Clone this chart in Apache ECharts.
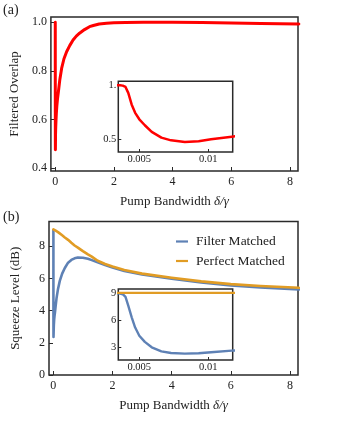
<!DOCTYPE html>
<html>
<head>
<meta charset="utf-8">
<script src="https://cdn.jsdelivr.net/npm/echarts@6/dist/echarts.min.js"></script>
<style>html,body{margin:0;padding:0;background:#fff;}#c{width:346px;height:423px;}</style>
</head>
<body>
<div id="c"></div>
<script>
// Pump bandwidth delta/gamma
var delta = [0.0034,0.0036,0.0038,0.004,0.0042,0.00445,0.0047,0.005,0.0054,0.0059,0.0066,0.0073,0.0083,0.0093,0.0102,0.0117,0.013,0.016,0.02,0.03,0.04,0.057,0.08,0.11,0.16,0.22,0.3,0.39,0.5,0.61,0.72,0.83,1.0,1.17,1.3,1.5,1.75,2.0,2.4,3,4,5,6,7,8.3];
// Filtered overlap (panel a)
var overlap = [1.0,1.0,0.997,0.985,0.93,0.82,0.745,0.685,0.63,0.568,0.515,0.49,0.475,0.481,0.5,0.524,0.54,0.555,0.57,0.6,0.625,0.655,0.685,0.714,0.765,0.81,0.85,0.879,0.905,0.927,0.943,0.955,0.97,0.982,0.987,0.993,0.996,0.998,0.999,1.0,1.0,0.999,0.997,0.995,0.993];
// Squeeze level (dB) panel b
var filterMatched = [9.0,8.97,8.9,8.6,7.63,6.33,5.2,4.29,3.6,3.0,2.55,2.37,2.3,2.34,2.45,2.63,2.75,2.95,3.15,3.45,3.65,3.9,4.3,4.78,5.35,5.85,6.3,6.65,6.98,7.15,7.25,7.3,7.29,7.22,7.14,7.0,6.83,6.68,6.47,6.25,5.98,5.75,5.57,5.44,5.32];
var perfectMatched = [9.05,9.05,9.05,9.05,9.05,9.05,9.05,9.05,9.05,9.05,9.05,9.05,9.05,9.05,9.05,9.05,9.05,9.05,9.04,9.03,9.02,9.0,8.97,8.94,8.88,8.8,8.68,8.55,8.4,8.22,8.05,7.92,7.7,7.5,7.36,7.1,6.9,6.74,6.52,6.3,6.04,5.82,5.65,5.53,5.42];
// Tick values
var xTicksMain = [0,2,4,6,8];
var yTicksA = [0.4,0.6,0.8,1.0];
var yTicksB = [0,2,4,6,8];
var xTicksInset = [0.005,0.01];
var yTicksInsetA = [0.5,1];
var yTicksInsetB = [3,6,9];

function pairs(xs, ys){ return xs.map(function(x,i){ return [x, ys[i]]; }); }

var FONT = 'Liberation Serif';
var frame = '#2a2a2a';
function gridBox(l,t,w,h,bg){
  return {left:l, top:t, width:w, height:h, show:true, borderColor:frame, borderWidth:1.5, backgroundColor:bg||'transparent', containLabel:false};
}
function xAx(gi, min, max, ticks, fmt, fs, name, margin){
  return {type:'value', gridIndex:gi, min:min, max:max,
    axisLine:{show:false, onZero:false},
    splitLine:{show:false},
    axisTick:{show:true, inside:true, length:fs>11?4:3, lineStyle:{color:frame}, customValues:ticks},
    axisLabel:{show:true, customValues:ticks, formatter:fmt, fontFamily:FONT, fontSize:fs, color:'#222', margin:margin},
    name:name||'', nameLocation:'middle', nameGap:24,
    nameTextStyle:{fontFamily:FONT, fontSize:13, color:'#222', rich:{i:{fontFamily:FONT, fontStyle:'italic', fontSize:13, color:'#222'}}}
  };
}
function yAx(gi, min, max, ticks, fmt, fs, name, margin){
  return {type:'value', gridIndex:gi, min:min, max:max,
    axisLine:{show:false, onZero:false},
    splitLine:{show:false},
    axisTick:{show:true, inside:true, length:fs>11?4:3, lineStyle:{color:frame}, customValues:ticks},
    axisLabel:{show:true, customValues:ticks, formatter:fmt, fontFamily:FONT, fontSize:fs, color:'#222', margin:margin},
    name:name||'', nameLocation:'middle', nameGap:27,
    nameTextStyle:{fontFamily:FONT, fontSize:13, color:'#222'}
  };
}
var RED = '#FF0000', BLUE = '#5E81B5', ORANGE = '#E19C24';
function line(name, gi, data, color, w){
  return {type:'line', name:name, xAxisIndex:gi, yAxisIndex:gi, data:data, symbol:'none',
    smooth:false, clip:true, animation:false,
    lineStyle:{color:color, width:w, join:'round', cap:'round'}, itemStyle:{color:color}};
}

var chart = echarts.init(document.getElementById('c'), null, {renderer:'canvas'});
chart.setOption({
  animation:false,
  backgroundColor:'#fff',
  grid:[
    gridBox(49,17,249,154),
    gridBox(118.3,81.3,114.4,70.7,'#fff'),
    gridBox(49,221.5,249,153.5),
    gridBox(118.3,289,114.4,71,'#fff')
  ],
  xAxis:[
    xAx(0,-0.145,8.27,xTicksMain,function(v){return String(v);},12,'Pump Bandwidth {i|δ/γ}',5),
    xAx(1,0.003478,0.011768,xTicksInset,function(v){return String(v);},10.5,'',2),
    xAx(2,-0.145,8.27,xTicksMain,function(v){return String(v);},12,'Pump Bandwidth {i|δ/γ}',5),
    xAx(3,0.003478,0.011768,xTicksInset,function(v){return String(v);},10.5,'',2)
  ],
  yAxis:[
    yAx(0,0.388,1.0218,yTicksA,function(v){return v.toFixed(1);},12,'Filtered Overlap',4),
    yAx(1,0.382,1.037,yTicksInsetA,function(v){return v===1?'1.':String(v);},10.5,'',2),
    yAx(2,0,9.54,yTicksB,function(v){return String(v);},12,'Squeeze Level (dB)',4),
    yAx(3,1.59,9.48,yTicksInsetB,function(v){return String(v);},10.5,'',2)
  ],
  legend:{
    show:true, orient:'vertical', left:171, top:229, icon:'rect', itemWidth:12, itemHeight:2.2, itemGap:4.5,
    data:['Filter Matched','Perfect Matched'],
    textStyle:{fontFamily:FONT, fontSize:13.5, color:'#222', padding:[0,0,0,3], lineHeight:15}
  },
  series:[
    line('Filtered Overlap',0,pairs(delta,overlap),RED,3),
    line('Filtered Overlap inset',1,pairs(delta,overlap),RED,2.5),
    line('Filter Matched',2,pairs(delta,filterMatched),BLUE,2.6),
    line('Perfect Matched',2,pairs(delta,perfectMatched),ORANGE,2.6),
    line('Filter Matched',3,pairs(delta,filterMatched),BLUE,2.4),
    line('Perfect Matched',3,pairs(delta,perfectMatched),ORANGE,2.4)
  ],
  graphic:[
    {type:'text', left:3, top:3, style:{text:'(a)', font:'14px "Liberation Serif"', fill:'#222'}},
    {type:'text', left:3, top:210, style:{text:'(b)', font:'14px "Liberation Serif"', fill:'#222'}}
  ]
});
</script>
</body>
</html>
